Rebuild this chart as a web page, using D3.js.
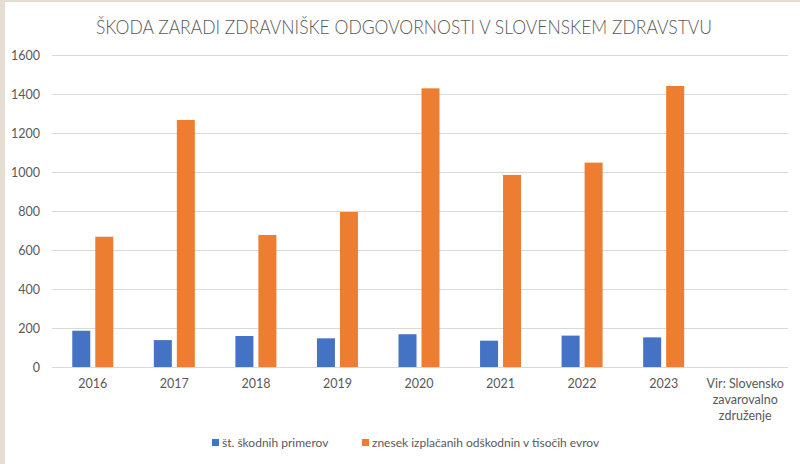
<!DOCTYPE html>
<html>
<head>
<meta charset="utf-8">
<script src="https://cdn.jsdelivr.net/npm/d3@7"></script>
<style>
  body { margin: 0; background: #fff; }
  text { font-family: Lato, "Open Sans", sans-serif; fill: #595959; }
</style>
</head>
<body>
<script>
var years = ['2016', '2017', '2018', '2019', '2020', '2021', '2022', '2023', 'Vir: Slovensko zavarovalno združenje']
var cases = [186, 138, 159, 147, 168, 135, 161, 152, null]
var payouts = [668, 1267, 677, 795, 1429, 985, 1048, 1441, null]
var seriesNames = ['št. škodnih primerov', 'znesek izplačanih odškodnin v tisočih evrov']
var yTicks = [0, 200, 400, 600, 800, 1000, 1200, 1400, 1600]
var colors = ['#4472c4', '#ed7d31']

var width = 800
var height = 464

var svg = d3.select('body')
    .append('svg')
    .attr('width', width)
    .attr('height', height)

// page edge
svg.append('rect').attr('width', width).attr('height', height).attr('fill', '#e6ded2')
svg.append('rect').attr('x', 5).attr('y', 2).attr('width', width - 5).attr('height', height - 2).attr('fill', '#fff')

svg.append('text')
    .attr('x', 96)
    .attr('y', 34)
    .attr('textLength', 616)
    .attr('lengthAdjust', 'spacingAndGlyphs')
    .style('font-size', '20px')
    .style('font-weight', 300)
    .text('ŠKODA ZARADI ZDRAVNIŠKE ODGOVORNOSTI V SLOVENSKEM ZDRAVSTVU')

var x = d3.scaleBand()
    .domain(years)
    .range([52, 786])

var y = d3.scaleLinear()
    .domain([0, 1600])
    .range([367, 55])

// grid
svg.append('g')
    .selectAll('line')
    .data(yTicks)
    .join('line')
    .attr('x1', 52)
    .attr('x2', 788)
    .attr('y1', d => y(d) + 0.5)
    .attr('y2', d => y(d) + 0.5)
    .attr('stroke', '#d9d9d9')
    .attr('stroke-width', 1)

var yAxis = d3.axisLeft(y).tickValues(yTicks).tickFormat(d3.format('d')).tickSize(0).tickPadding(0)
var yAxisGroup = svg.append('g')
    .attr('transform', 'translate(40,0)')
    .call(yAxis)
yAxisGroup.select('.domain').remove()
yAxisGroup.selectAll('text').style('font-size', '12.5px').attr('dy', '0.35em')

var barW = 18
var gap = 5

function plotSeries(values, color, offset) {
    svg.append('g')
        .selectAll('rect')
        .data(years.map((d, i) => ({ cat: d, v: values[i] })).filter(d => d.v != null))
        .join('rect')
        .attr('x', d => x(d.cat) + x.bandwidth() / 2 + offset)
        .attr('y', d => y(d.v))
        .attr('width', barW)
        .attr('height', d => y(0) - y(d.v))
        .attr('fill', color)
}

plotSeries(cases, colors[0], -barW - gap / 2)
plotSeries(payouts, colors[1], gap / 2)

// x labels
var xl = svg.append('g')
    .selectAll('text')
    .data(years)
    .join('text')
    .attr('text-anchor', 'middle')
    .attr('y', 388)
    .style('font-size', '12.5px')
    .attr('transform', d => 'translate(' + (x(d) + x.bandwidth() / 2) + ',0)')

xl.each(function (d) {
    var t = d3.select(this)
    if (d.indexOf('Vir') == 0) {
        var lines = ['Vir: Slovensko', 'zavarovalno', 'združenje']
        lines.forEach((l, i) => {
            t.append('tspan').attr('x', 0).attr('dy', i == 0 ? 0 : 16).text(l)
        })
    } else {
        t.text(d)
    }
})

// legend
var legendX = [212, 362]
var lg = svg.append('g')
    .selectAll('g')
    .data(seriesNames)
    .join('g')
    .attr('transform', (d, i) => 'translate(' + legendX[i] + ',443)')
lg.append('rect')
    .attr('x', 0)
    .attr('y', -4)
    .attr('width', 7)
    .attr('height', 7)
    .attr('fill', (d, i) => colors[i])
lg.append('text')
    .attr('x', 10)
    .attr('dy', '0.35em')
    .style('font-size', '12px')
    .text(d => d)
</script>
</body>
</html>
